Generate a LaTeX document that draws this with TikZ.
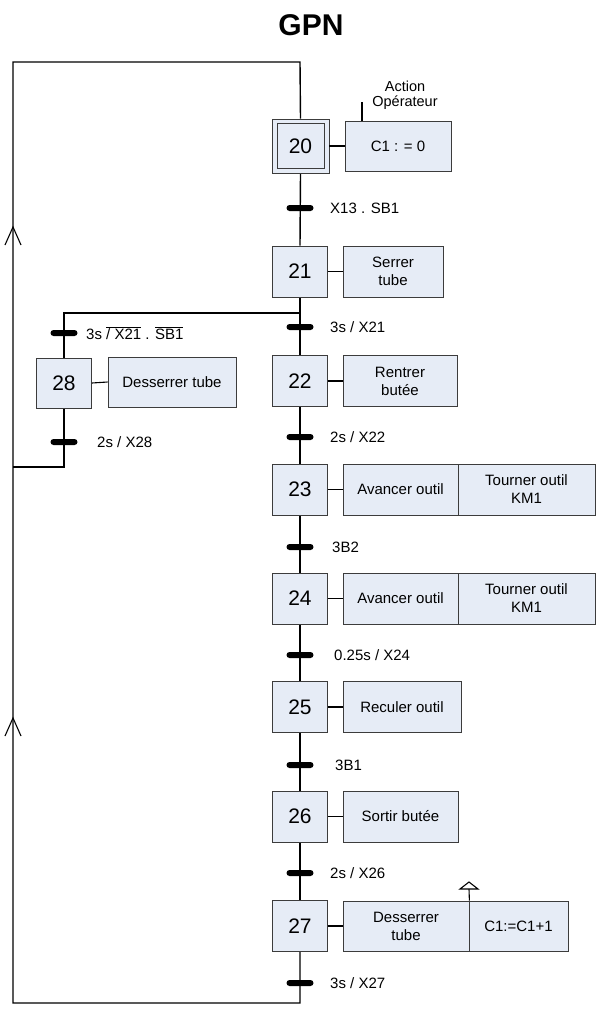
\documentclass[tikz,border=0pt]{standalone}
\usepackage{fontspec}
\setmainfont{Liberation Sans}
\definecolor{boxfill}{RGB}{230,236,246}
\definecolor{boxline}{RGB}{60,60,60}
\pgfdeclarelayer{bg}
\pgfsetlayers{bg,main}
\begin{document}
\begin{tikzpicture}[x=1pt,y=-1pt,
  stepbox/.style={draw=boxline, fill=boxfill, line width=0.8pt, minimum width=55pt, minimum height=51pt, inner sep=0pt, font=\fontsize{21}{24}\selectfont},
  actbox/.style={draw=boxline, fill=boxfill, line width=0.8pt, minimum height=51pt, inner sep=0pt, align=center, font=\fontsize{15}{18}\selectfont},
  trbar/.style={fill=black, minimum width=27pt, minimum height=6pt, inner sep=0pt, rounded corners=3pt},
  trlabel/.style={anchor=west, inner sep=0pt, font=\fontsize{15}{17}\selectfont},
  link/.style={line width=1.4pt},
  thinlink/.style={line width=1.1pt},
]
\useasboundingbox (0,0) rectangle (600,1010);

% title
\node[font=\bfseries\fontsize{30}{32}\selectfont] (title) at (311,25) {GPN};

% steps
\node[draw=boxline, fill=boxfill, line width=0.8pt, minimum width=57pt, minimum height=54pt, inner sep=0pt] (s20o) at (300.5,146) {};
\node[stepbox, minimum width=47pt, minimum height=45pt] (s20) at (300.5,146) {20};
\node[stepbox] (s21) at (300,271.5) {21};
\node[stepbox] (s22) at (300,381) {22};
\node[stepbox] (s23) at (300,489.5) {23};
\node[stepbox] (s24) at (300,598.5) {24};
\node[stepbox] (s25) at (300,707) {25};
\node[stepbox] (s26) at (300,816.5) {26};
\node[stepbox] (s27) at (300,926) {27};
\node[stepbox, minimum height=50pt] (s28) at (64,383) {28};

% actions
\node[actbox, minimum width=106pt, minimum height=50pt] (a20) at (398,146) {C1 : = 0};
\node[actbox, minimum width=100pt] (a21) at (393,271.5) {Serrer\\tube};
\node[actbox, minimum width=114pt] (a22) at (400,381) {Rentrer\\butée};
\node[actbox, minimum width=115pt] (a23a) at (400.5,489.5) {Avancer outil};
\node[actbox, minimum width=137pt] (a23b) at (526.5,489.5) {Tourner outil\\KM1};
\node[actbox, minimum width=115pt] (a24a) at (400.5,598.5) {Avancer outil};
\node[actbox, minimum width=137pt] (a24b) at (526.5,598.5) {Tourner outil\\KM1};
\node[actbox, minimum width=118pt] (a25) at (402,707) {Reculer outil};
\node[actbox, minimum width=115pt] (a26) at (400.5,816.5) {Sortir butée};
\node[actbox, minimum width=126pt, minimum height=50pt] (a27a) at (406,926) {Desserrer\\tube};
\node[actbox, minimum width=99pt, minimum height=50pt] (a27b) at (518.5,926) {C1:=C1+1};
\node[actbox, minimum width=128pt, minimum height=50pt] (a28) at (172,382) {Desserrer tube};

% action operateur label
\node[align=center, inner sep=0pt, font=\fontsize{14.5}{15}\selectfont] (lbl) at (405,95) {Action\\Opérateur};
\coordinate (tickb) at (362,121);
\coordinate (tickt) at (362,102);
\draw[thinlink] (tickb) -- (tickt);

% transitions
\node[trbar] (t20) at (300,208) {};
\node[trbar] (t21) at (300,327) {};
\node[trbar] (t21b) at (64,333) {};
\node[trbar] (t22) at (300,437) {};
\node[trbar] (t23) at (300,547) {};
\node[trbar] (t24) at (300,655) {};
\node[trbar] (t25) at (300,765) {};
\node[trbar] (t26) at (300,873) {};
\node[trbar] (t27) at (300,983) {};
\node[trbar] (t28) at (64,442) {};

\node[trlabel] (l20) at (330,208) {X13 . SB1};
\node[trlabel] (l21) at (330,327) {3s / X21};
\node[trlabel] (l21b) at (86,333) {3s $\overline{\mbox{/ X21}}$ . $\overline{\mbox{SB1}}$};
\node[trlabel] (l22) at (330,437) {2s / X22};
\node[trlabel] (l23) at (332,547) {3B2};
\node[trlabel] (l24) at (334,655) {0.25s / X24};
\node[trlabel] (l25) at (335,765) {3B1};
\node[trlabel] (l26) at (330,873) {2s / X26};
\node[trlabel] (l27) at (330,983) {3s / X27};
\node[trlabel] (l28) at (97,442) {2s / X28};

% coordinates for loops
\coordinate (bot) at (300,1003);
\coordinate (botl) at (13,1003);
\coordinate (topl) at (13,62);
\coordinate (top) at (300,62);
\coordinate (br) at (300,313);
\coordinate (brl) at (64,313);
\coordinate (j28) at (64,467);
\coordinate (j28l) at (13,467);

\begin{pgfonlayer}{bg}
\draw[link] (s20o.south) -- (s21.north);
\draw[link] (s21.south) -- (s22.north);
\draw[link] (s22.south) -- (s23.north);
\draw[link] (s23.south) -- (s24.north);
\draw[link] (s24.south) -- (s25.north);
\draw[link] (s25.south) -- (s26.north);
\draw[link] (s26.south) -- (s27.north);
\draw[link] (s27.south) -- (bot) -- (botl) -- (topl) -- (top) -- (s20o.north);
\draw[link] (br) -- (brl) -- (s28.north);
\draw[link] (s28.south) -- (j28) -- (j28l);
\end{pgfonlayer}

% step-action links
\draw[thinlink] (s20o.east) -- (a20.west);
\draw[thinlink] (s21.east) -- (a21.west);
\draw[thinlink] (s22.east) -- (a22.west);
\draw[thinlink] (s23.east) -- (a23a.west);
\draw[thinlink] (s24.east) -- (a24a.west);
\draw[thinlink] (s25.east) -- (a25.west);
\draw[thinlink] (s26.east) -- (a26.west);
\draw[thinlink] (s27.east) -- (a27a.west);
\draw[thinlink] (s28.east) -- (a28.west);

% arrowheads on the return line
\draw[thinlink] (5,245) -- (13,227) -- (21,245);
\draw[thinlink] (5,736) -- (13,718) -- (21,736);

% event arrow on step 27
\coordinate (ev) at (469,889);
\draw[thinlink] (a27a.north east) -- (ev);
\draw[thinlink, fill=white] (460,889) -- (469,882) -- (478,889) -- cycle;
\end{tikzpicture}
\end{document}
